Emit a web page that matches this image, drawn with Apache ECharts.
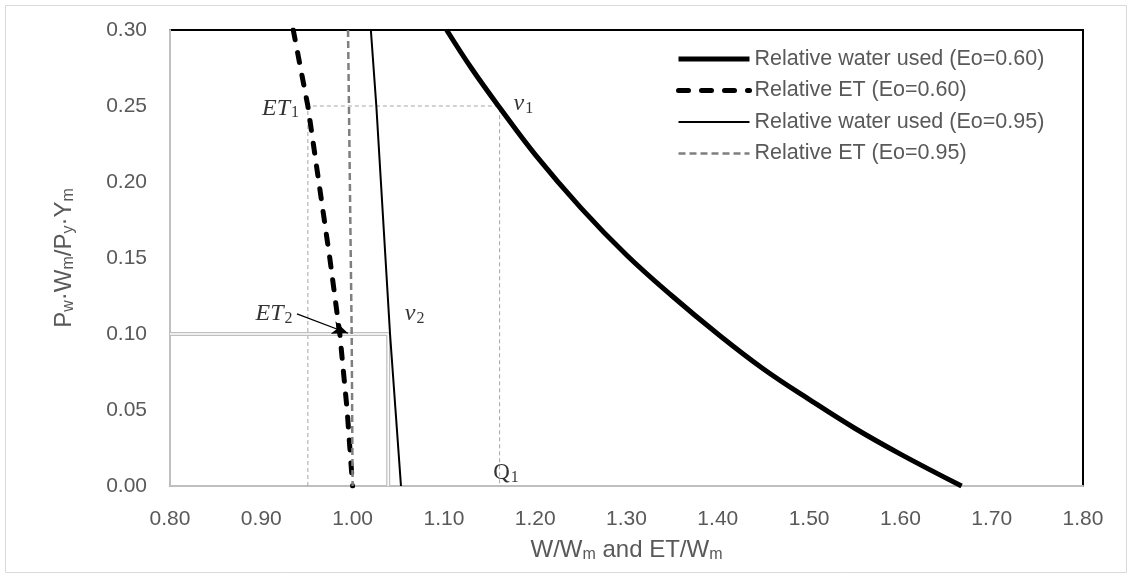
<!DOCTYPE html>
<html lang="en">
<head>
    <meta charset="UTF-8">
    <title>Relative water used and ET</title>
    <style>
        html, body { margin: 0; padding: 0; background: #fff; }
        #chart { width: 1133px; height: 578px; }
    </style>
</head>
<body>
<div id="chart"></div>
<script src="https://cdn.jsdelivr.net/npm/echarts@6/dist/echarts.min.js"></script>
<script>
    // price ratio levels shared by the straight-ish curves
    var priceLevels = [0.30, 0.25, 0.20, 0.15, 0.10, 0.05, 0.00];

    // Relative water used (Eo=0.60)
    var water060X = [1.103, 1.130, 1.161, 1.200, 1.250, 1.300, 1.350, 1.400, 1.450, 1.500, 1.550, 1.600, 1.667];
    var water060Y = [0.300, 0.275, 0.249, 0.218, 0.183, 0.152, 0.125, 0.100, 0.077, 0.057, 0.038, 0.021, 0.000];
    // Relative ET (Eo=0.60)
    var et060X = [0.935, 0.951, 0.963, 0.975, 0.986, 0.994, 1.000];
    // Relative water used (Eo=0.95)
    var water095X = [1.020, 1.026, 1.031, 1.036, 1.041, 1.047, 1.053];
    // Relative ET (Eo=0.95)
    var et095X = [0.995, 0.996, 0.997, 0.998, 0.999, 0.9995, 1.000];

    // reading guides
    var et1 = 0.951, v1 = 1.161, level1 = 0.25;
    var v2 = 1.039, level2 = 0.10;

    var xTicks = [0.8, 1.8, 0.1];
    var yTicks = [0, 0.3, 0.05];

    var seriesNames = [
        'Relative water used (Eo=0.60)',
        'Relative ET (Eo=0.60)',
        'Relative water used (Eo=0.95)',
        'Relative ET (Eo=0.95)'
    ];

    // text labels placed in data coordinates
    var notes = [
        { text: '{i|ET}{s|1}', x: 0.921, y: 0.2485 },
        { text: '{i|v}{s|1}', x: 1.187, y: 0.2515 },
        { text: '{i|ET}{s|2}', x: 0.914, y: 0.1135 },
        { text: '{i|v}{s|2}', x: 1.068, y: 0.1135 },
        { text: '{r|Q}{s|1}', x: 1.168, y: 0.0085 }
    ];
    var arrowFrom = [0.939, 0.1132], arrowTo = [0.995, 0.1005];

    function zip(xs, ys) {
        return xs.map(function (x, i) { return [x, ys[i]]; });
    }

    var labelColor = '#595959';
    var font = 'Liberation Sans';

    var myChart = echarts.init(document.getElementById('chart'));

    var guideStyle = { color: '#a6a6a6', width: 1, type: [4, 3] };
    var titleRich = {
        t: { fontSize: 24, color: labelColor, fontFamily: font, lineHeight: 28 },
        m: { fontSize: 16, color: labelColor, fontFamily: font, padding: [10, 0, 0, 0] }
    };

    var option = {
        animation: false,
        backgroundColor: '#fff',
        graphic: [{
            type: 'rect',
            shape: { x: 5.5, y: 5.5, width: 1121, height: 567 },
            style: { fill: 'none', stroke: '#d9d9d9', lineWidth: 1 },
            z: -1
        }],
        grid: {
            left: 170, top: 30, right: 50, bottom: 92,
            show: true, borderColor: '#000', borderWidth: 2, backgroundColor: 'transparent'
        },
        legend: {
            data: [
                { name: seriesNames[0], lineStyle: { width: 5 } },
                { name: seriesNames[1], lineStyle: { width: 5 } },
                { name: seriesNames[2], lineStyle: { width: 2 } },
                { name: seriesNames[3], lineStyle: { width: 2.5 } }
            ],
            orient: 'vertical',
            left: 676, top: 48, padding: 0,
            itemWidth: 71, itemHeight: 14, itemGap: 9.5,
            itemStyle: { opacity: 0 },
            textStyle: { color: labelColor, fontSize: 21.5, fontFamily: font, lineHeight: 22 }
        },
        xAxis: {
            type: 'value',
            min: xTicks[0], max: xTicks[1], interval: xTicks[2],
            splitLine: { show: false },
            axisTick: { show: false },
            axisLine: { lineStyle: { color: '#bfbfbf', width: 2 } },
            axisLabel: {
                margin: 23, color: labelColor, fontSize: 21, fontFamily: font,
                formatter: function (v) { return v.toFixed(2); }
            },
            name: '{t|W/W}{m|m}{t| and ET/W}{m|m}',
            nameLocation: 'middle',
            nameGap: 50,
            nameTextStyle: { rich: titleRich }
        },
        yAxis: {
            type: 'value',
            min: yTicks[0], max: yTicks[1], interval: yTicks[2],
            splitLine: { show: false },
            axisTick: { show: false },
            axisLine: { show: true, lineStyle: { color: '#bfbfbf', width: 2 } },
            axisLabel: {
                margin: 23, color: labelColor, fontSize: 21, fontFamily: font,
                formatter: function (v) { return v.toFixed(2); }
            },
            name: '{t|P}{m|w}{t|·W}{m|m}{t|/P}{m|y}{t|·Y}{m|m}',
            nameLocation: 'middle',
            nameGap: 92,
            nameTextStyle: { rich: titleRich }
        },
        series: [
            // dashed guides for ET1 / v1
            {
                name: 'guide1', type: 'line', symbol: 'none', z: 1, silent: true,
                lineStyle: guideStyle,
                data: [[et1, 0], [et1, level1], [v1, level1], [v1, 0]]
            },
            // double grey guide for v2 (outer grey, inner white)
            {
                name: 'guide2a', type: 'line', symbol: 'none', z: 1, silent: true,
                lineStyle: { color: '#bfbfbf', width: 4 },
                data: [[xTicks[0], level2], [v2, level2], [v2, 0]]
            },
            {
                name: 'guide2b', type: 'line', symbol: 'none', z: 1, silent: true,
                lineStyle: { color: '#fff', width: 1.5 },
                data: [[xTicks[0], level2], [v2, level2], [v2, 0]]
            },
            {
                name: seriesNames[0], type: 'line', symbol: 'none', smooth: 0.4, z: 3,
                color: '#000',
                lineStyle: { color: '#000', width: 5 },
                data: zip(water060X, water060Y)
            },
            {
                name: seriesNames[1], type: 'line', symbol: 'none', z: 3,
                color: '#000',
                lineStyle: { color: '#000', width: 5, type: [10, 13], cap: 'round' },
                data: zip(et060X, priceLevels)
            },
            {
                name: seriesNames[2], type: 'line', symbol: 'none', z: 3,
                color: '#000',
                lineStyle: { color: '#000', width: 2 },
                data: zip(water095X, priceLevels)
            },
            {
                name: seriesNames[3], type: 'line', symbol: 'none', z: 3,
                color: '#7f7f7f',
                lineStyle: { color: '#7f7f7f', width: 2.5, type: [7, 4] },
                data: zip(et095X, priceLevels)
            },
            // annotations and arrow
            {
                name: 'notes', type: 'scatter', symbolSize: 0, z: 5, silent: true,
                data: notes.map(function (n) {
                    return { value: [n.x, n.y], label: { formatter: n.text } };
                }),
                label: {
                    show: true, position: 'inside',
                    rich: {
                        i: { fontFamily: 'Liberation Serif', fontStyle: 'italic', fontSize: 24, color: '#000', lineHeight: 24 },
                        r: { fontFamily: 'Liberation Serif', fontSize: 23, color: '#000', lineHeight: 24 },
                        s: { fontFamily: 'Liberation Serif', fontSize: 16, color: '#000', padding: [10, 0, 0, 1] }
                    }
                },
                markLine: {
                    silent: true,
                    z: 6,
                    symbol: ['none', 'arrow'],
                    symbolSize: [10, 16],
                    label: { show: false },
                    lineStyle: { color: '#000', width: 1.2, type: 'solid' },
                    data: [[{ coord: arrowFrom }, { coord: arrowTo }]]
                }
            }
        ]
    };
    myChart.setOption(option);
</script>
</body>
</html>
